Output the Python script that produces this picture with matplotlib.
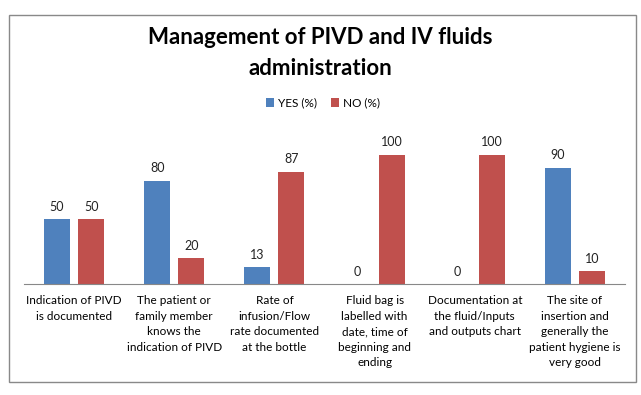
import numpy as np
import matplotlib.pyplot as plt
from matplotlib.patches import Rectangle

plt.rcParams['font.family'] = ['Lato', 'DejaVu Sans']

categories = [
    "Indication of PIVD\nis documented",
    "The patient or\nfamily member\nknows the\nindication of PIVD",
    "Rate of\ninfusion/Flow\nrate documented\nat the bottle",
    "Fluid bag is\nlabelled with\ndate, time of\nbeginning and\nending",
    "Documentation at\nthe fluid/Inputs\nand outputs chart",
    "The site of\ninsertion and\ngenerally the\npatient hygiene is\nvery good",
]
yes_pct = [50, 80, 13, 0, 0, 90]
no_pct = [50, 20, 87, 100, 100, 10]

blue = '#4f81bd'
red = '#c0504d'

fig = plt.figure(figsize=(6.41, 3.95), dpi=100)
fig.patch.set_facecolor('white')
fig.patches.append(Rectangle((9 / 641, 1 - 382 / 395), 627 / 641, 367 / 395,
                             transform=fig.transFigure, fill=False,
                             edgecolor='#898989', linewidth=1.0))

ax = fig.add_axes([24 / 641, 111 / 395, 601 / 641, 142 / 395])
x = np.arange(len(categories))
w = 0.26
b1 = ax.bar(x - 0.17, yes_pct, w, color=blue, label='YES (%)')
b2 = ax.bar(x + 0.17, no_pct, w, color=red, label='NO (%)')

for bars, vals in ((b1, yes_pct), (b2, no_pct)):
    for r, v in zip(bars, vals):
        ax.text(r.get_x() + r.get_width() / 2, v + 5, str(v),
                ha='center', va='bottom', fontsize=9, color='#222222')

ax.set_xlim(-0.5, len(categories) - 0.5)
ax.set_ylim(0, 110)
ax.set_yticks([])
ax.set_xticks(x)
ax.set_xticklabels(categories, fontsize=8.5, linespacing=1.5, va='top')
ax.tick_params(axis='x', length=0, pad=8)
for s in ['left', 'right', 'top']:
    ax.spines[s].set_visible(False)
ax.spines['bottom'].set_color('#888888')

fig.text(0.5, 1 - 53 / 395, "Management of PIVD and IV fluids\nadministration",
         ha='center', va='center', fontsize=16, fontweight='bold',
         linespacing=1.55)

fig.legend(loc='center', bbox_to_anchor=(323 / 641, 1 - 103 / 395), ncol=2,
           frameon=False, fontsize=8.5, handlelength=0.7, handleheight=0.7,
           handletextpad=0.3, columnspacing=1.2)

fig.savefig('out.png', dpi=100)
